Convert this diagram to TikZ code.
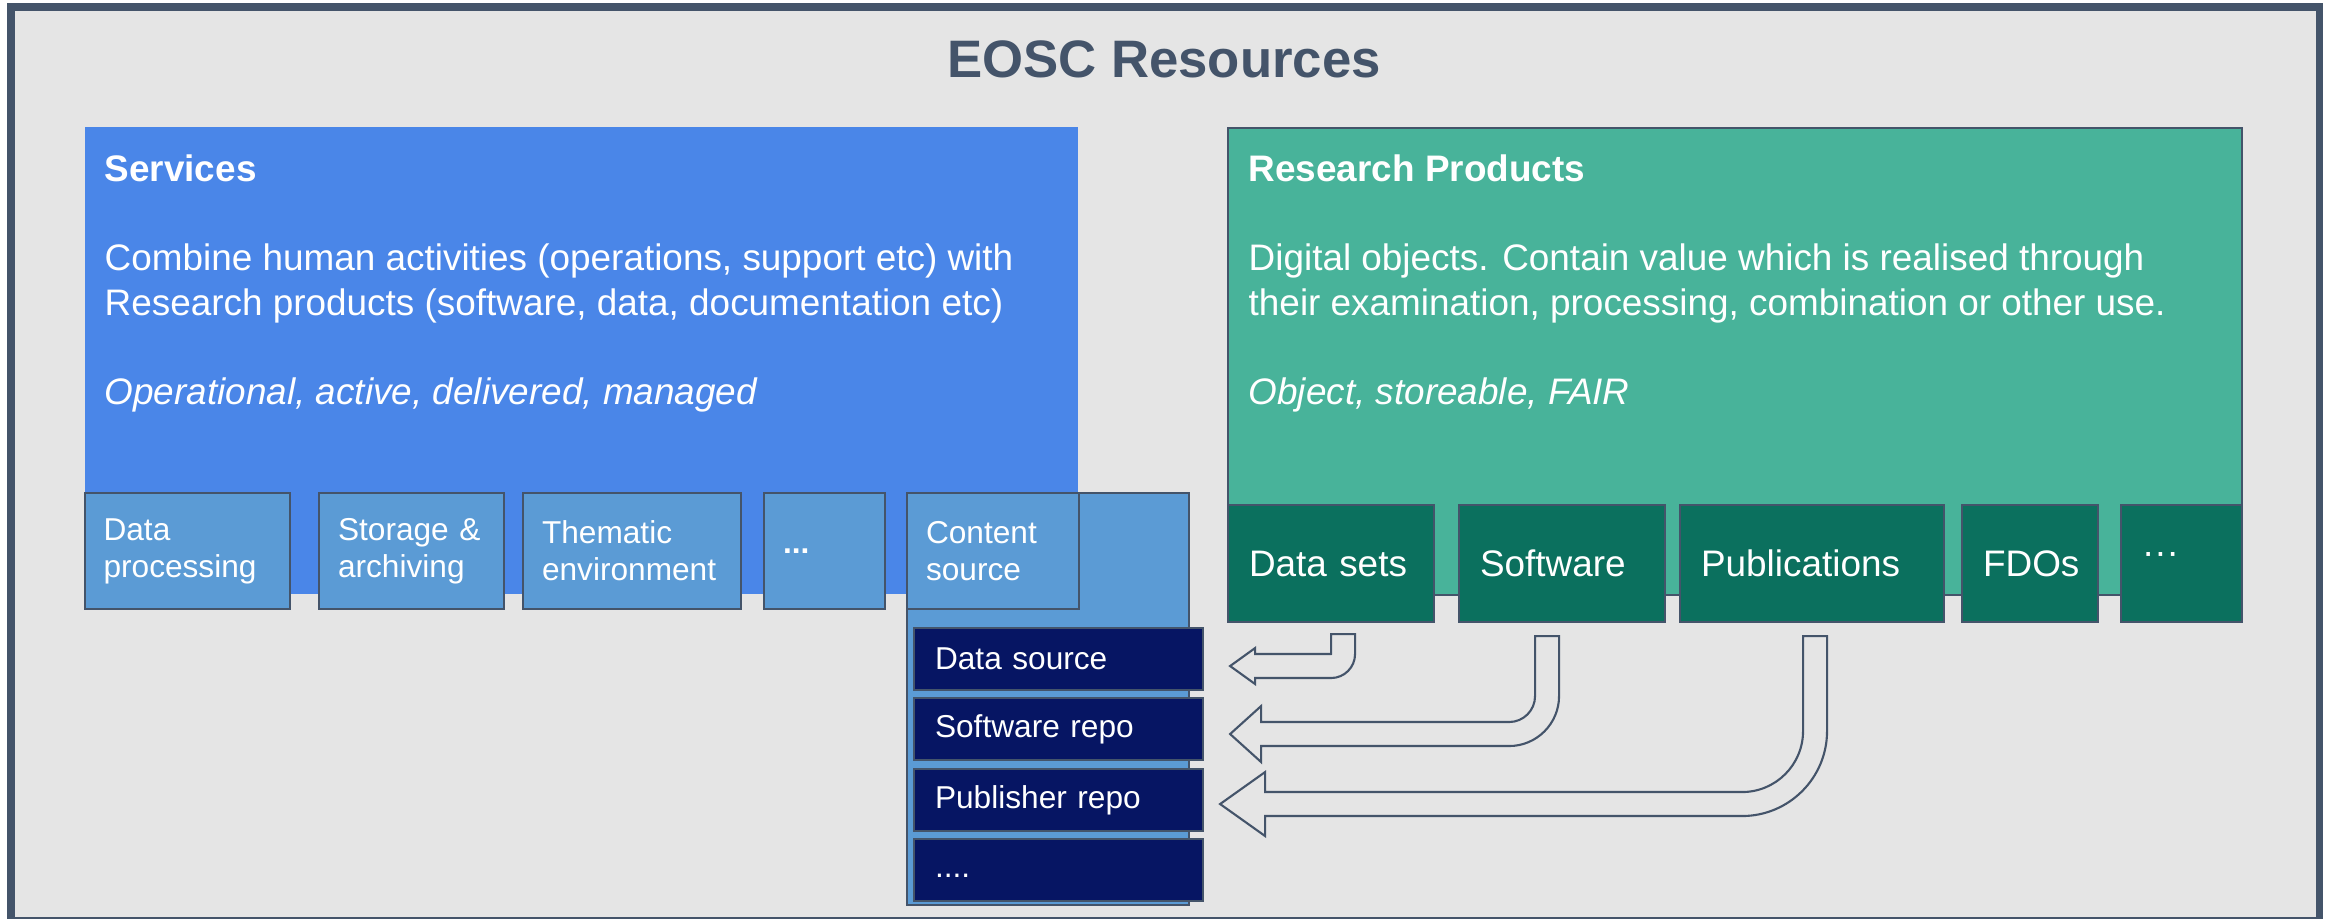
\documentclass[tikz,border=0pt]{standalone}
\usepackage{fontspec}
\setmainfont{Liberation Sans}
\usetikzlibrary{positioning,calc}
\definecolor{frameslate}{HTML}{44546A}
\definecolor{panelgray}{HTML}{E5E5E5}
\definecolor{svcblue}{HTML}{4A86E8}
\definecolor{tileblue}{HTML}{5B9BD5}
\definecolor{reponavy}{HTML}{061563}
\definecolor{prodgreen}{HTML}{48B39A}
\definecolor{tilegreen}{HTML}{0B705E}
% top, tip, outer radius, inner radius, head half height, head length
\newcommand{\bentarrow}[6]{%
  \draw[hollowarrow] let \p1=(#1), \p2=(#2) in
    (\x1-0.12cm,\y1) -- (\x1+0.12cm,\y1)
    -- (\x1+0.12cm,\y2-0.12cm+#3) arc[start angle=0,end angle=-90,radius=#3]
    -- (\x2+#6,\y2-0.12cm) -- (\x2+#6,\y2-#5) -- (\x2,\y2) -- (\x2+#6,\y2+#5)
    -- (\x2+#6,\y2+0.12cm) -- (\x1-0.12cm-#4,\y2+0.12cm)
    arc[start angle=-90,end angle=0,radius=#4] -- cycle;}

\begin{document}
\begin{tikzpicture}[
    panel/.style={anchor=north west, minimum width=9.93cm, minimum height=4.67cm, inner sep=0pt},
    tile/.style={draw=frameslate, line width=0.6pt, anchor=north west, text=white, align=left,
      inner xsep=0.19cm, inner ysep=0pt, font=\fontsize{9}{10.5}\selectfont},
    svctile/.style={tile, fill=tileblue, minimum height=1.16cm},
    repotile/.style={tile, fill=reponavy, minimum height=0.62cm, inner xsep=0.21cm},
    prodtile/.style={tile, fill=tilegreen, minimum height=1.17cm, inner xsep=0.21cm,
      font=\fontsize{10.5}{12.6}\selectfont},
    paneltext/.style={anchor=west, inner sep=0pt, text=white, align=left,
      font=\fontsize{10.5}{12.66}\selectfont},
    hollowarrow/.style={draw=frameslate, fill=panelgray, line width=0.6pt}
  ]
  \useasboundingbox (0,0) rectangle (23.26,-9.19);
  \draw[frameslate, fill=panelgray, line width=2pt] (0.11,-0.07) rectangle (23.19,-9.21);
  \node[font=\fontsize{15}{18}\selectfont\bfseries, text=frameslate] (ttl) at (11.64,-0.59) {EOSC Resources};

  % services
  \node[panel, fill=svcblue] (svcpanel) at (0.84,-1.26) {};
  \node[paneltext, font=\fontsize{10.5}{12.66}\selectfont\bfseries] (svchead) at (1.04,-1.68) {Services};
  \node[paneltext] (svcdesc) at (1.04,-2.835) {Combine human activities (operations, support etc) with\\Research products (software, data, documentation etc)};
  \node[paneltext, font=\fontsize{10.5}{12.66}\selectfont\itshape] (svcnote) at (1.04,-3.95) {Operational, active, delivered, managed};

  \node[svctile, text width=1.675cm] (dproc) at (0.835,-4.92) {Data\\processing};
  \node[svctile, text width=1.47cm] (stor) at (3.18,-4.92) {Storage \&\\archiving};
  \node[svctile, text width=1.80cm] (them) at (5.22,-4.92) {Thematic\\environment};
  \node[svctile, text width=0.83cm] (smore) at (7.63,-4.92) {\textbf{...}};
  \node[tile, fill=tileblue, minimum width=2.82cm, minimum height=4.12cm, inner sep=0pt] (csback) at (9.06,-4.92) {};
  \node[svctile, text width=1.34cm] (csrc) at (9.06,-4.92) {Content\\source};

  \node[repotile, text width=2.47cm] (dsrc) at (9.13,-6.27) {Data source};
  \node[repotile, text width=2.47cm] (srepo) at (9.13,-6.97) {Software repo};
  \node[repotile, text width=2.47cm] (prepo) at (9.13,-7.68) {Publisher repo};
  \node[repotile, text width=2.47cm] (rmore) at (9.13,-8.38) {\strut....};

  % research products
  \node[panel, fill=prodgreen, draw=frameslate, line width=0.6pt, minimum width=10.14cm] (prodpanel) at (12.27,-1.27) {};
  \node[paneltext, font=\fontsize{10.5}{12.66}\selectfont\bfseries] (prodhead) at (12.48,-1.68) {Research Products};
  \node[paneltext] (proddesc) at (12.48,-2.835) {Digital objects. Contain value which is realised through\\their examination, processing, combination or other use.};
  \node[paneltext, font=\fontsize{10.5}{12.66}\selectfont\itshape] (prodnote) at (12.48,-3.95) {Object, storeable, FAIR};

  \node[prodtile, text width=1.64cm] (dsets) at (12.27,-5.04) {Data sets};
  \node[prodtile, text width=1.64cm] (dsoft) at (14.58,-5.04) {Software};
  \node[prodtile, text width=2.22cm] (dpubs) at (16.79,-5.04) {Publications};
  \node[prodtile, text width=0.94cm] (dfdo) at (19.61,-5.04) {FDOs};
  \node[prodtile, text width=0.79cm] (dmore) at (21.20,-5.04) {\raisebox{0.5ex}{···}};

  % hollow arrows back to the repositories
  \coordinate (setsdrop) at ($(dsets.south)+(0.12,-0.11)$);
  \coordinate (softdrop) at ($(dsoft.south)+(-0.15,-0.13)$);
  \coordinate (pubsdrop) at ($(dpubs.south)+(0.03,-0.13)$);
  \coordinate (srcin) at ($(dsrc.east)+(0.26,-0.07)$);
  \coordinate (srepoin) at ($(srepo.east)+(0.26,-0.05)$);
  \coordinate (prepoin) at ($(prepo.east)+(0.16,-0.04)$);
  \bentarrow{setsdrop}{srcin}{0.24cm}{0.01pt}{0.18cm}{0.25cm}
  \bentarrow{softdrop}{srepoin}{0.5cm}{0.26cm}{0.28cm}{0.31cm}
  \bentarrow{pubsdrop}{prepoin}{0.85cm}{0.61cm}{0.32cm}{0.45cm}
\end{tikzpicture}
\end{document}
